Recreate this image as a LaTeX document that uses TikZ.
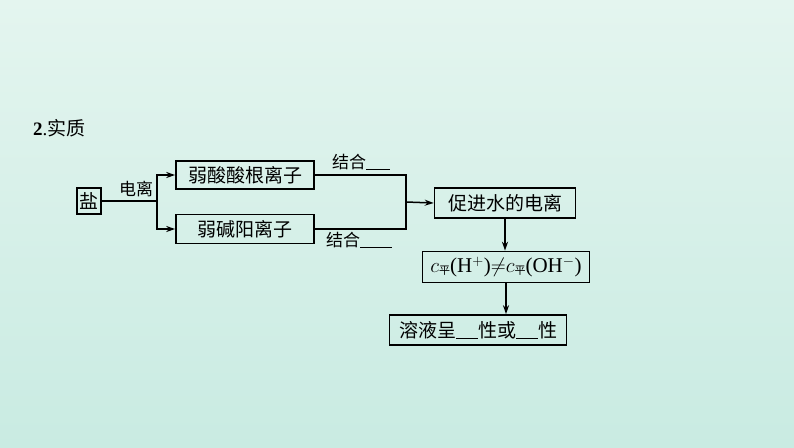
\documentclass[tikz,border=0pt]{standalone}
\usepackage{fontspec}
\newfontfamily\cjk{Noto Sans CJK SC}
\setmainfont{Liberation Serif}
\usetikzlibrary{arrows.meta}
\definecolor{bgA}{HTML}{E4F5EF}
\definecolor{bgB}{HTML}{C9EBE2}
\begin{document}
\begin{tikzpicture}[x=1pt,y=-1pt,
  bx/.style={draw,line width=1.6pt,inner sep=0pt,font=\cjk\fontsize{19}{19}\selectfont},
  ln/.style={line width=1.5pt},
  ar/.style={line width=1.5pt,-{Stealth[length=9pt,width=6pt]}},
  lb/.style={font=\cjk\fontsize{17}{17}\selectfont,inner sep=0pt}]
\shade[top color=bgA,bottom color=bgB] (0,0) rectangle (794,447);
\useasboundingbox (0,0) rectangle (794,447);
\node[anchor=west,inner sep=0pt,font=\fontsize{19}{19}\selectfont] (t) at (33,128) {\textbf{2}.{\cjk 实质}};
\node[bx,minimum width=24pt,minimum height=26pt] (salt) at (89,201) {盐};
\node[bx,minimum width=138pt,minimum height=28pt] (a) at (245,175) {弱酸酸根离子};
\node[bx,minimum width=138pt,minimum height=29pt] (b) at (245,229) {弱碱阳离子};
\node[bx,minimum width=141pt,minimum height=30pt] (c) at (505,203) {促进水的电离};
\node[bx,minimum width=167pt,minimum height=31pt,font=\fontsize{21}{21}\selectfont] (d) at (506,267) {$c$\raisebox{-2pt}{\cjk\fontsize{11}{11}\selectfont 平}(H$^{+}$)$\neq$$c$\raisebox{-2pt}{\cjk\fontsize{11}{11}\selectfont 平}(OH$^{-}$)};
\node[bx,minimum width=177pt,minimum height=30pt] (e) at (478,330) {溶液呈\rule[-2pt]{22pt}{0.9pt}性或\rule[-2pt]{22pt}{0.9pt}性};
\coordinate (j) at (157,201);
\coordinate (k) at (406,202);
\draw[ln] (salt) -- (j);
\draw[ar] (j) |- (a.west);
\draw[ar] (j) |- (b.west);
\draw[ln] (a.east) -| (k);
\draw[ln] (b.east) -| (k);
\draw[ar] (k) -- (c.west);
\draw[ar] (c.south) -- (c.south |- d.north);
\draw[ar] (d.south) -- (d.south |- e.north);
\node[lb] (l0) at (136,189) {电离};
\node[lb,anchor=west] (l1) at (332,162) {结合\rule[-2pt]{24pt}{0.9pt}};
\node[lb,anchor=west] (l2) at (326,240) {结合\rule[-2pt]{32pt}{0.9pt}};
\end{tikzpicture}
\end{document}
